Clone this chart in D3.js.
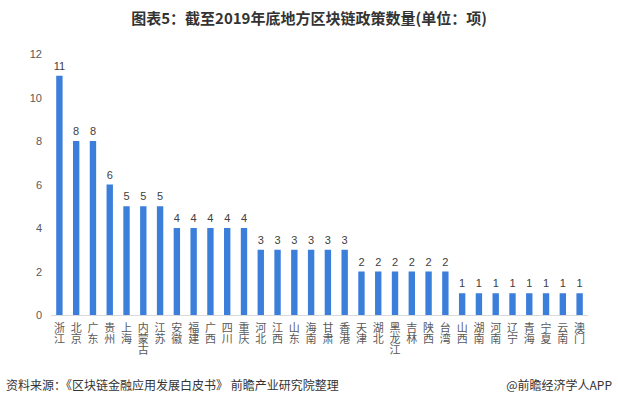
<!DOCTYPE html>
<html>
<head>
<meta charset="utf-8">
<script src="https://cdn.jsdelivr.net/npm/d3@7"></script>
<style>
  body { margin: 0; background: #fff; }
  svg { font-family: "Noto Sans CJK SC", "Microsoft YaHei", sans-serif; }
  .lab { writing-mode: vertical-rl; text-orientation: upright; }
</style>
</head>
<body>
<div id="chart"></div>
<script>
// 省份与政策数量
const provinces = ["浙江","北京","广东","贵州","上海","内蒙古","江苏","安徽","福建","广西","四川","重庆",
  "河北","江西","山东","海南","甘肃","香港","天津","湖北","黑龙江","吉林","陕西","台湾",
  "山西","湖南","河南","辽宁","青海","宁夏","云南","澳门"];
const counts = [11,8,8,6,5,5,5,4,4,4,4,4,3,3,3,3,3,3,2,2,2,2,2,2,1,1,1,1,1,1,1,1];
const yTicks = [0,2,4,6,8,10,12];

const width = 618, height = 406;
const svg = d3.select('#chart').append('svg')
  .attr('width', width).attr('height', height);

const x = d3.scaleBand().domain(provinces).range([51, 588]).paddingInner(0.62).paddingOuter(0.31);
const y = d3.scaleLinear().domain([0, 12]).range([315, 54]);

// 标题
svg.append('text')
  .attr('x', 309).attr('y', 24)
  .attr('text-anchor', 'middle')
  .attr('font-size', 15).attr('font-weight', 'bold').attr('fill', '#333')
  .text('图表5：截至2019年底地方区块链政策数量(单位：项)');

// y 轴
const yAxis = svg.append('g').attr('transform', 'translate(48,0)')
  .call(d3.axisLeft(y).tickValues(yTicks).tickSize(0).tickPadding(6));
yAxis.select('.domain').remove();
yAxis.selectAll('text').attr('font-size', 11).attr('fill', '#595959')
  .attr('font-family', 'Liberation Sans, Arial, sans-serif');

// 柱子
svg.selectAll('rect.bar').data(counts).enter().append('rect')
  .attr('class', 'bar')
  .attr('x', (d, i) => x(provinces[i]))
  .attr('width', x.bandwidth())
  .attr('y', d => y(d))
  .attr('height', d => y(0) - y(d))
  .attr('fill', '#3b7fdb');

// 数值标签
svg.selectAll('text.val').data(counts).enter().append('text')
  .attr('class', 'val')
  .attr('x', (d, i) => x(provinces[i]) + x.bandwidth() / 2)
  .attr('y', d => y(d) - 6)
  .attr('text-anchor', 'middle')
  .attr('font-size', 11).attr('fill', '#404040')
  .attr('font-family', 'Liberation Sans, Arial, sans-serif')
  .text(d => d);

// x 轴
svg.append('line')
  .attr('x1', 51).attr('x2', 588)
  .attr('y1', y(0) + 0.5).attr('y2', y(0) + 0.5)
  .attr('stroke', '#d9d9d9');

// 竖排省份名
svg.selectAll('text.lab').data(provinces).enter().append('text')
  .attr('class', 'lab')
  .attr('x', p => x(p) + x.bandwidth() / 2)
  .attr('y', 322)
  .attr('font-size', 11).attr('fill', '#595959')
  .text(p => p);

// 底部来源
svg.append('text')
  .attr('x', 6).attr('y', 390)
  .attr('font-size', 12).attr('fill', '#333')
  .text('资料来源：《区块链金融应用发展白皮书》 前瞻产业研究院整理');
svg.append('text')
  .attr('x', 612).attr('y', 390)
  .attr('text-anchor', 'end')
  .attr('font-size', 12).attr('fill', '#333')
  .text('@前瞻经济学人APP');
</script>
</body>
</html>
